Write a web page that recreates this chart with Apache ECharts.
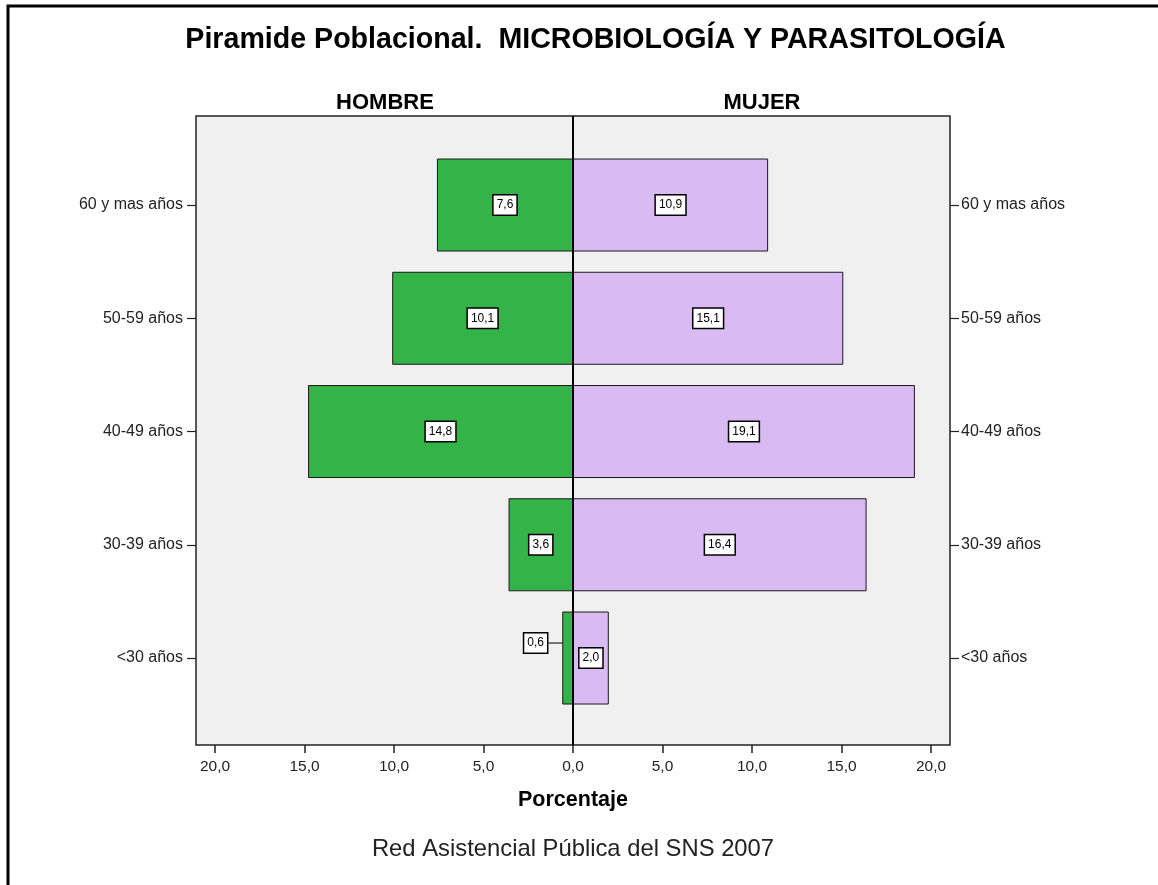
<!DOCTYPE html>
<html>
<head>
<meta charset="utf-8">
<script src="https://cdn.jsdelivr.net/npm/echarts@6/dist/echarts.min.js"></script>
<style>
html,body{margin:0;padding:0;background:#fff;}
#chart{width:1158px;height:885px;}
</style>
</head>
<body>
<div id="chart"></div>
<script>
const categories = ['<30 años', '30-39 años', '40-49 años', '50-59 años', '60 y mas años'];
const hombre = [0.6, 3.6, 14.8, 10.1, 7.6];
const mujer = [2.0, 16.4, 19.1, 15.1, 10.9];
const xTicks = [-20, -15, -10, -5, 0, 5, 10, 15, 20];
const titleText = 'Piramide Poblacional.  MICROBIOLOGÍA Y PARASITOLOGÍA';
const footerText = 'Red Asistencial Pública del SNS 2007';

const FONT = '"Liberation Sans", Arial, Helvetica, sans-serif';
const fmt = v => Math.abs(v).toFixed(1).replace('.', ',');

const chart = echarts.init(document.getElementById('chart'));

const GL = 196, GW = 754;
const labelStyle = {
  show: true,
  position: 'inside',
  formatter: p => fmt(p.value),
  fontFamily: FONT,
  fontSize: 12,
  color: '#000',
  backgroundColor: '#fff',
  borderColor: '#000',
  borderWidth: 1.5,
  padding: [4, 3, 3, 3]
};

const option = {
  animation: false,
  backgroundColor: '#fff',
  textStyle: { fontFamily: FONT },
  grid: [
    { left: GL, top: 116, width: GW, height: 629, show: true, backgroundColor: '#f0f0f0', borderColor: '#222', borderWidth: 1.5 },
    { left: GL, top: 148.4, width: GW, height: 566.25 }
  ],
  xAxis: [
    {
      gridIndex: 0, type: 'value', min: -21.06, max: 21.06,
      axisLine: { show: false, onZero: false },
      splitLine: { show: false },
      axisTick: { show: true, length: 8, customValues: xTicks, lineStyle: { color: '#222', width: 1.5 } },
      axisLabel: { customValues: xTicks, formatter: v => fmt(v), fontSize: 15.5, color: '#222', margin: 14, fontFamily: FONT }
    },
    {
      gridIndex: 1, type: 'value', min: -21.06, max: 21.06, show: false
    }
  ],
  yAxis: [
    { gridIndex: 0, type: 'value', min: 0, max: 1, show: false },
    {
      gridIndex: 1, type: 'category', data: categories, position: 'left',
      axisLine: { show: false, onZero: false },
      axisTick: { show: true, alignWithLabel: true, length: 9, lineStyle: { color: '#222', width: 1.2 } },
      axisLabel: { fontSize: 16, color: '#222', margin: 13, fontFamily: FONT }
    },
    {
      gridIndex: 1, type: 'category', data: categories, position: 'right',
      axisLine: { show: false, onZero: false },
      axisTick: { show: true, alignWithLabel: true, length: 9, lineStyle: { color: '#222', width: 1.2 } },
      axisLabel: { fontSize: 16, color: '#222', margin: 11, fontFamily: FONT }
    }
  ],
  series: [
    {
      name: 'HOMBRE', type: 'bar', xAxisIndex: 1, yAxisIndex: 1,
      barWidth: 93, barGap: '-100%',
      data: hombre.map((v, i) => i === 0 ? { value: -v, labelLine: { show: true } } : -v),
      itemStyle: { color: '#33b348', borderColor: '#1a1a1a', borderWidth: 1 },
      label: labelStyle,
      labelLine: { show: false, lineStyle: { color: '#222', width: 1.2 } },
      labelLayout: p => p.dataIndex === 0 ? { dx: -32, dy: -15 } : {}
    },
    {
      name: 'MUJER', type: 'bar', xAxisIndex: 1, yAxisIndex: 1,
      barWidth: 93, barGap: '-100%',
      data: mujer,
      itemStyle: { color: '#d9baf2', borderColor: '#1a1a1a', borderWidth: 1 },
      label: labelStyle
    },
    {
      name: 'cero', type: 'line', xAxisIndex: 0, yAxisIndex: 0,
      data: [[0, 0], [0, 1]], symbol: 'none', silent: true,
      lineStyle: { color: '#000', width: 2 }, z: 5
    }
  ],
  graphic: [
    { type: 'polyline', shape: { points: [[8, 885], [8, 6], [1158, 6]] }, style: { stroke: '#000', lineWidth: 3, fill: null } },
    { type: 'text', x: 595.5, y: 40, style: { text: titleText, font: 'bold 28.6px ' + FONT, fill: '#000', textAlign: 'center', textVerticalAlign: 'middle' } },
    { type: 'text', x: 385, y: 103, style: { text: 'HOMBRE', font: 'bold 22px ' + FONT, fill: '#000', textAlign: 'center', textVerticalAlign: 'middle' } },
    { type: 'text', x: 762, y: 103, style: { text: 'MUJER', font: 'bold 22px ' + FONT, fill: '#000', textAlign: 'center', textVerticalAlign: 'middle' } },
    { type: 'text', x: 573, y: 800, style: { text: 'Porcentaje', font: 'bold 21.5px ' + FONT, fill: '#000', textAlign: 'center', textVerticalAlign: 'middle' } },
    { type: 'text', x: 573, y: 849, style: { text: footerText, font: '23.8px ' + FONT, fill: '#222', textAlign: 'center', textVerticalAlign: 'middle' } }
  ]
};
chart.setOption(option);
</script>
</body>
</html>
